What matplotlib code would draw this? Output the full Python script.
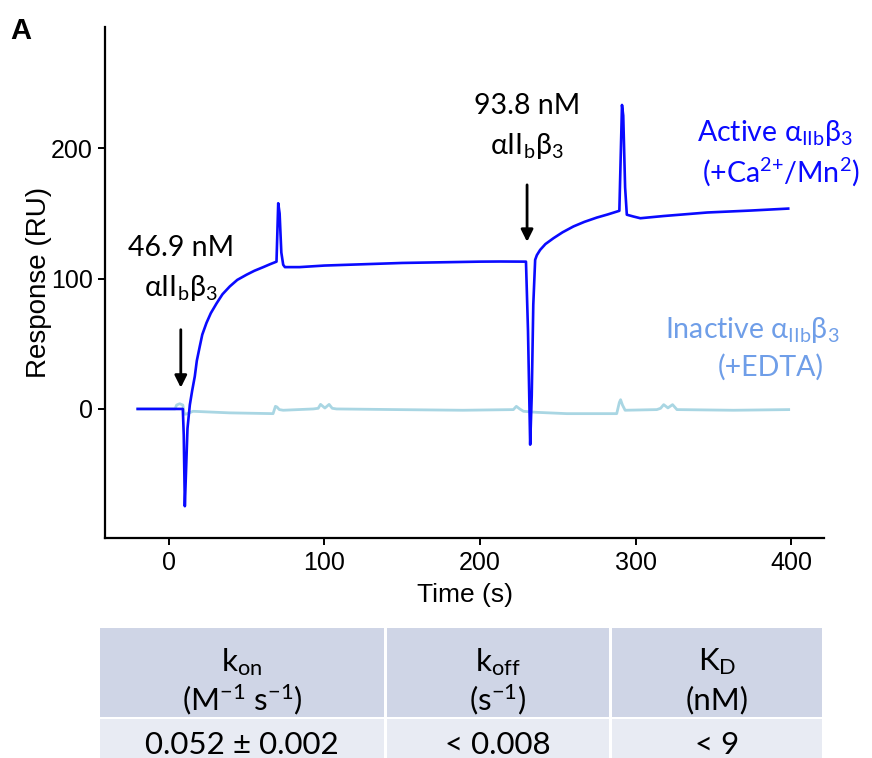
import matplotlib
matplotlib.use('Agg')
from matplotlib import pyplot as plt
from matplotlib.patches import Rectangle

plt.rcParams['mathtext.default'] = 'regular'

#active integrin trace (time s, response RU)
active_t = [-20, 0, 9.0, 9.6, 10.3, 11.0, 12.0, 13.5, 15.0, 16.7, 18.0, 19.9, 21.5, 24.2, 27.0,
            30.7, 34.5, 39.2, 44, 50, 55, 60.7, 65, 69.2, 70.3, 71.2, 72.3, 73.5, 74.6, 84,
            100, 125, 150, 175, 200, 213,
            229.5, 230.8, 232.2, 233.2, 234.2, 235.4, 236.5, 238.6, 242, 247.2, 253, 260, 267,
            275, 282, 289.5, 291.2, 292.0, 293.2, 294.3, 298.6, 303, 318, 346, 374, 398]
active_y = [0, 0, 0, -20, -74.6, -50, -15, 3, 14, 25, 37, 48, 57, 66, 73.5,
            81, 88, 94, 99, 103, 106, 108.8, 111, 113, 157.8, 150, 120, 110.6, 108.8, 108.8,
            110, 111, 112, 112.5, 113, 113.1,
            113, 60, -27.4, 10, 80, 114.4, 118, 122, 126.5, 131, 135.5, 140, 143.5,
            146.8, 149.2, 152, 233.2, 225, 170, 149, 147.6, 146.3, 148, 150.7, 152.2, 153.7]

#inactive integrin trace (+EDTA)
inactive_t = [-20, 4, 5, 7, 9, 10, 11, 15.6, 39, 67, 68.5, 69.5, 71, 73.5, 92.8, 96, 97.5,
              100.3, 103, 105, 107.8, 146.4, 189, 221.4, 223.3, 225.5, 227.9, 236.4, 255.7,
              287.8, 289.5, 290.3, 291.5, 293.2, 313.6, 316, 318, 320.7, 323.7, 326.5,
              362.9, 398.3]
inactive_y = [0, 0, 3, 4, 3, -4, -4, -1.8, -3, -3.6, 2, 1.5, -0.5, -1, 0, 0.5, 3.5,
              0.7, 3.5, 0.5, 0, -0.5, -1, -0.5, 2, 0, -1.8, -2.6, -3.6,
              -3.6, 5, 7.1, 3, -1, -0.5, 0.5, 3.3, 0.8, 3.3, -0.5,
              -1, -0.5]

#kinetics table
col_names = ['k$_{on}$', 'k$_{off}$', 'K$_{D}$']
col_units = ['(M$^{-1}$ s$^{-1}$)', '(s$^{-1}$)', '(nM)']
col_values = ['0.052 ± 0.002', '< 0.008', '< 9']

W, H = 872, 758
fig = plt.figure(figsize=(W / 100, H / 100), dpi=100)
ax = fig.add_axes([105 / W, (H - 538) / H, (824 - 105) / W, (538 - 27) / H])

ax.plot(inactive_t, inactive_y, color='#a9d6e3', lw=2)
ax.plot(active_t, active_y, color='#0a0aff', lw=1.9)

ax.set_xlim(-41, 421)
ax.set_ylim(-99, 293)
ax.set_xticks([0, 100, 200, 300, 400])
ax.set_yticks([0, 100, 200])
for s in ['top', 'right']:
    ax.spines[s].set_visible(False)
for s in ['left', 'bottom']:
    ax.spines[s].set_linewidth(1.6)
ax.tick_params(length=5, width=1.4, labelsize=18, pad=4)
sans = ['Liberation Sans', 'DejaVu Sans']
for lab in ax.get_xticklabels() + ax.get_yticklabels():
    lab.set_family(sans)
ax.set_xlabel('Time (s)', fontsize=19, family=sans, labelpad=6)
ax.set_ylabel('Response (RU)', fontsize=20, family=sans)
ax.yaxis.set_label_coords(-0.074, 0.5)

txt = dict(family=['Lato', 'DejaVu Sans'], fontsize=20.5, ha='center', va='center')
ax.text(7.7, 123.6, '46.9 nM', **txt)
ax.text(7.7, 92.9, 'αII$_{b}$β$_{3}$', **txt)
ax.text(230.2, 232.4, '93.8 nM', **txt)
ax.text(230.2, 201.8, 'αII$_{b}$β$_{3}$', **txt)
ax.text(389.7, 211.7, 'Active α$_{IIb}$β$_{3}$', color='#0a0aff', **txt)
ax.text(393, 181.8, '(+Ca$^{2{+}}$/Mn$^{2}$)', color='#0a0aff', **txt)
ax.text(375, 60.8, 'Inactive α$_{IIb}$β$_{3}$', color='#6f9ee8', **txt)
ax.text(386.5, 31.6, '(+EDTA)', color='#6f9ee8', **txt)

arrow = dict(arrowstyle='-|>', lw=2, color='black', mutation_scale=18, shrinkA=0, shrinkB=0)
ax.annotate('', xy=(7.7, 16.3), xytext=(7.7, 60.8), arrowprops=arrow)
ax.annotate('', xy=(230.2, 128.2), xytext=(230.2, 171.9), arrowprops=arrow)

fig.text(10 / W, 1 - 31 / H, 'A', fontsize=21, fontweight='bold', family=sans, va='center')

#table drawn in pixel units
tab = fig.add_axes([0, 0, 1, 1], zorder=-1)
tab.set_xlim(0, W)
tab.set_ylim(H, 0)
tab.axis('off')
cell = dict(txt, fontsize=22.5)
col_x = [(100, 384), (387, 609), (612, 822)]
for (x0, x1), name, unit, val in zip(col_x, col_names, col_units, col_values):
    tab.add_patch(Rectangle((x0, 628), x1 - x0, 89, color='#cfd5e6', lw=0))
    tab.add_patch(Rectangle((x0, 719), x1 - x0, 40, color='#e8ebf3', lw=0))
    cx = (x0 + x1) / 2
    tab.text(cx, 662, name, **cell)
    tab.text(cx, 700, unit, **cell)
    tab.text(cx, 745, val, **cell)

fig.savefig('out.png', dpi=100)
